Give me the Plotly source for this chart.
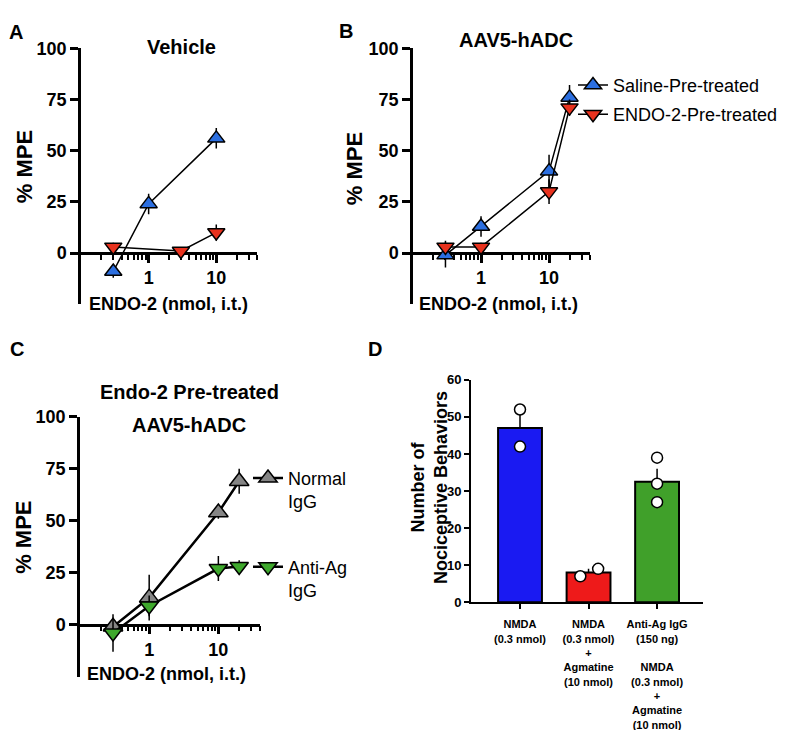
import plotly.graph_objects as go

# ---- data ----
# panel A (Vehicle)
a_x_saline = [0.3, 1, 10]
a_y_saline = [-9, 24, 56]
a_err_saline = [3, 5, 5]
a_x_endo = [0.3, 3, 10]
a_y_endo = [3, 1, 10]
a_err_endo = [2, 2, 4]

# panel B (AAV5-hADC)
b_x = [0.3, 1, 10, 20]
b_y_saline = [-1, 13, 40, 76]
b_err_saline = [6, 5, 8, 6]
b_y_endo = [3, 3, 30, 71]
b_err_endo = [3, 2, 6, 4]

# panel C (Endo-2 pre-treated, AAV5-hADC)
c_x = [0.3, 1, 10, 20]
c_y_normal = [-1, 13, 54, 69]
c_err_normal = [2, 11, 3, 6]
c_y_anti = [-4, 9, 27, 28]
c_err_anti = [9, 5, 6, 3]

# panel D
d_labels = [
    "NMDA<br>(0.3 nmol)",
    "NMDA<br>(0.3 nmol)<br>+<br>Agmatine<br>(10 nmol)",
    "Anti-Ag IgG<br>(150 ng)<br> <br>NMDA<br>(0.3 nmol)<br>+<br>Agmatine<br>(10 nmol)",
]
d_means = [47, 8, 32.5]
d_sem = [5, 1, 3.5]
d_points = [[52, 42], [7, 9], [39, 32, 27]]
d_jitter = [[0, 0], [-0.12, 0.14], [0, 0, 0]]

W, H = 785, 730
FONT = "Liberation Sans, Arial, Helvetica, sans-serif"
BLUE = "#2c6fe0"
RED = "#e8321e"
GRAY = "#858585"
GREEN = "#3ea82c"


def px(x, y):
    return x / W, 1 - y / H


def bold(size):
    return dict(family=FONT, size=size, color="black", weight="bold")


fig = go.Figure()


def dose_trace(x, y, err, color, symbol, name, xa, ya, legend, lw, msize):
    return go.Scatter(
        x=x, y=y, mode="lines+markers", name=name,
        xaxis=xa, yaxis=ya, legend=legend,
        line=dict(color="black", width=lw),
        marker=dict(symbol=symbol, size=msize, color=color,
                    line=dict(color="black", width=1.5)),
        error_y=dict(type="data", array=err, color="black", thickness=1.5, width=0),
        cliponaxis=False,
        showlegend=legend is not None,
    )


# A
fig.add_trace(dose_trace(a_x_saline, a_y_saline, a_err_saline, BLUE, "triangle-up",
                         "Saline", "x", "y", None, 1.5, 15))
fig.add_trace(dose_trace(a_x_endo, a_y_endo, a_err_endo, RED, "triangle-down",
                         "ENDO-2", "x", "y", None, 1.5, 15))
# B
fig.add_trace(dose_trace(b_x, b_y_saline, b_err_saline, BLUE, "triangle-up",
                         "Saline-Pre-treated", "x2", "y2", "legend", 1.5, 15))
fig.add_trace(dose_trace(b_x, b_y_endo, b_err_endo, RED, "triangle-down",
                         "ENDO-2-Pre-treated", "x2", "y2", "legend2", 1.5, 15))
# C
fig.add_trace(dose_trace(c_x, c_y_normal, c_err_normal, GRAY, "triangle-up",
                         "Normal<br>IgG", "x3", "y3", "legend3", 2.5, 17))
fig.add_trace(dose_trace(c_x, c_y_anti, c_err_anti, GREEN, "triangle-down",
                         "Anti-Ag<br>IgG", "x3", "y3", "legend4", 2.5, 16))

# D
cats = list(range(len(d_labels)))
fig.add_trace(go.Bar(
    x=cats, y=d_means, width=0.64, xaxis="x4", yaxis="y4", showlegend=False,
    marker=dict(color=["#1a1af2", "#ee1a1a", "#40a02a"], line=dict(color="black", width=2)),
    error_y=dict(type="data", symmetric=False, array=d_sem, arrayminus=[0] * len(d_sem),
                 color="black", thickness=1.5, width=0),
))
pts_x, pts_y = [], []
for i, (vals, jit) in enumerate(zip(d_points, d_jitter)):
    for v, j in zip(vals, jit):
        pts_x.append(i + j)
        pts_y.append(v)
fig.add_trace(go.Scatter(
    x=pts_x, y=pts_y, mode="markers", xaxis="x4", yaxis="y4", showlegend=False,
    marker=dict(size=11, color="white", line=dict(color="black", width=1.5)),
    cliponaxis=False,
))

# ---- axes ----
minor_vals = [0.2, 0.3, 0.4, 0.5, 0.6, 0.7, 0.8, 0.9,
              2, 3, 4, 5, 6, 7, 8, 9, 20, 30, 40]


def log_xaxis(x0, x1, y_zero):
    return dict(
        type="log", range=[-1, 1.602], domain=[x0 / W, x1 / W],
        anchor="free", position=1 - y_zero / H,
        showline=True, linewidth=2.5, linecolor="black",
        ticks="outside", ticklen=8, tickwidth=2.5, tickcolor="black",
        tickvals=[1, 10], ticktext=["1", "10"], tickfont=bold(18),
        minor=dict(tickmode="array", tickvals=minor_vals, ticks="outside",
                   ticklen=5, tickwidth=2, tickcolor="black"),
        showgrid=False, zeroline=False, layer="below traces",
    )


def pct_yaxis(xa, y_top, y_zero):
    bottom = y_zero + (y_zero - y_top) * 0.25
    return dict(
        range=[-25, 100], domain=[1 - bottom / H, 1 - y_top / H], anchor=xa,
        showline=True, linewidth=2.5, linecolor="black",
        ticks="outside", ticklen=8, tickwidth=2.5, tickcolor="black",
        tickvals=[0, 25, 50, 75, 100], tickfont=bold(18),
        showgrid=False, zeroline=False, layer="below traces",
    )


fig.update_layout(
    xaxis=log_xaxis(73, 249, 241), yaxis=pct_yaxis("x", 31, 241),
    xaxis2=log_xaxis(405, 582, 241), yaxis2=pct_yaxis("x2", 31, 241),
    xaxis3=log_xaxis(72, 252, 622), yaxis3=pct_yaxis("x3", 409, 622),
    xaxis4=dict(
        domain=[463 / W, 695 / W], range=[-0.715, 2.67], anchor="y4",
        showline=True, linewidth=2, linecolor="black",
        ticks="outside", ticklen=5, tickwidth=1.5, tickcolor="black",
        tickvals=cats, ticktext=d_labels, tickfont=bold(11),
        ticklabelstandoff=6, showgrid=False, zeroline=False,
    ),
    yaxis4=dict(
        domain=[1 - 599 / H, 1 - 371 / H], range=[0, 60], anchor="x4",
        showline=True, linewidth=2, linecolor="black",
        ticks="outside", ticklen=5, tickwidth=2, tickcolor="black",
        dtick=10, tickfont=bold(13), showgrid=False, zeroline=False,
    ),
)

# ---- legends ----
def legend_at(x, y):
    lx, ly = px(x, y)
    return dict(x=lx, y=ly, xanchor="left", yanchor="top", bgcolor="rgba(0,0,0,0)",
                font=dict(family=FONT, size=18, color="black"), itemwidth=30,
                valign="top", tracegroupgap=0)


fig.update_layout(
    legend=legend_at(565, 50),
    legend2=legend_at(565, 80),
    legend3=legend_at(240, 453),
    legend4=legend_at(240, 544),
)

# ---- text ----
notes = [
    ("A", 8, 14, 20, 0, "center"), ("B", 338, 13, 20, 0, "center"),
    ("C", 9, 339, 20, 0, "center"), ("D", 367, 339, 20, 0, "center"),
    ("Vehicle", 173, 30, 20, 0, "center"),
    ("AAV5-hADC", 508, 23, 20, 0, "center"),
    ("Endo-2 Pre-treated", 181, 383, 20, 0, "center"),
    ("AAV5-hADC", 181, 417, 20, 0, "center"),
    ("% MPE", 16, 153, 22, -90, "center"),
    ("% MPE", 346, 155, 22, -90, "center"),
    ("% MPE", 16, 533, 22, -90, "center"),
    ("ENDO-2 (nmol, i.t.)", 79, 293, 18, 0, "left"),
    ("ENDO-2 (nmol, i.t.)", 409, 293, 18, 0, "left"),
    ("ENDO-2 (nmol, i.t.)", 77, 673, 18, 0, "left"),
    ("Number of<br>Nociceptive Behaviors", 421, 482, 18, -90, "center"),
]
for text, x, y, size, angle, anchor in notes:
    ax, ay = px(x, y)
    fig.add_annotation(text=text, x=ax, y=ay, xref="paper", yref="paper",
                       xanchor=anchor, yanchor="middle", textangle=angle,
                       showarrow=False, font=bold(size))

fig.update_layout(
    width=W, height=H, margin=dict(l=0, r=0, t=0, b=0),
    paper_bgcolor="white", plot_bgcolor="white",
)

fig.write_html("out.html")
